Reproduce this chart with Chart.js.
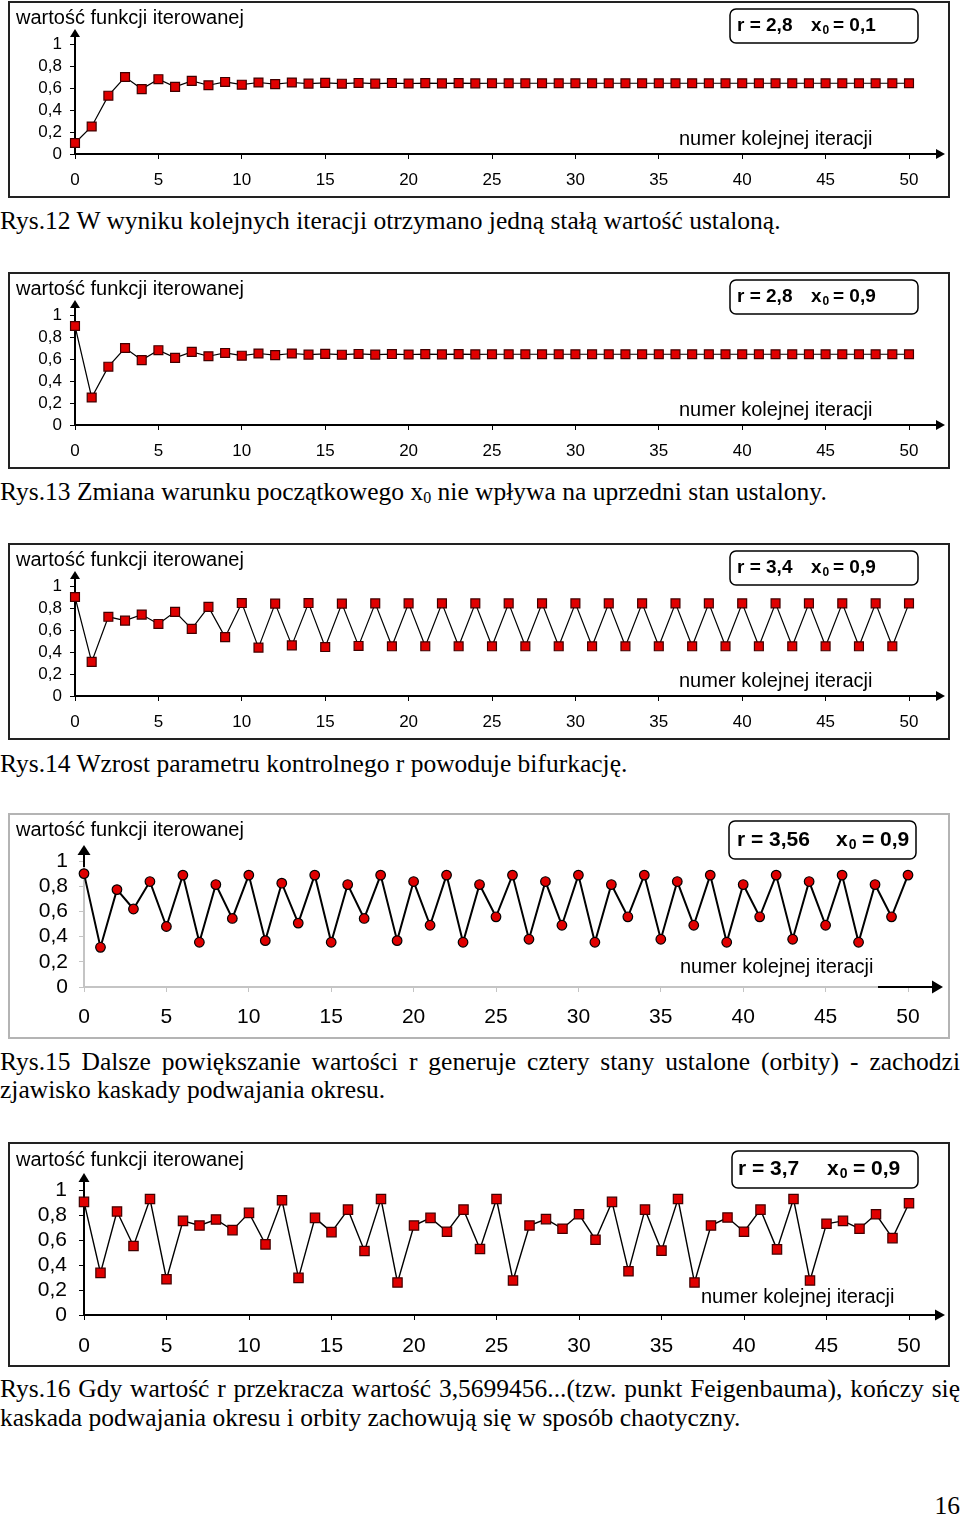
<!DOCTYPE html>
<html lang="pl">
<head>
<meta charset="utf-8">
<title>Iteracje funkcji logistycznej</title>
<script src="https://cdn.jsdelivr.net/npm/chart.js@4.4.0/dist/chart.umd.min.js"></script>
<style>
    body { margin: 0; width: 960px; height: 1517px; background: #fff; position: relative; overflow: hidden; }
    canvas.wykres { position: absolute; left: 8px; }
    .podpis { position: absolute; left: 0; width: 960px; font-family: "Liberation Serif", "Times New Roman", serif; font-size: 25.5px; line-height: 29px; color: #000; white-space: nowrap; }
    .wyjustowany { text-align: justify; text-align-last: justify; white-space: normal; }
    .ind { font-size: 16px; vertical-align: -3px; }
</style>
</head>
<body>
<canvas class="wykres" id="rys12"></canvas>
<div class="podpis" style="top:206px">Rys.12 W wyniku kolejnych iteracji otrzymano jedną stałą wartość ustaloną.</div>

<canvas class="wykres" id="rys13"></canvas>
<div class="podpis" style="top:477px">Rys.13 Zmiana warunku początkowego x<span class="ind">0</span> nie wpływa na uprzedni stan ustalony.</div>

<canvas class="wykres" id="rys14"></canvas>
<div class="podpis" style="top:749px">Rys.14 Wzrost parametru kontrolnego r powoduje bifurkację.</div>

<canvas class="wykres" id="rys15"></canvas>
<div class="podpis wyjustowany" style="top:1047px">Rys.15 Dalsze powiększanie wartości r generuje cztery stany ustalone (orbity) - zachodzi</div>
<div class="podpis" style="top:1075px">zjawisko kaskady podwajania okresu.</div>

<canvas class="wykres" id="rys16"></canvas>
<div class="podpis wyjustowany" style="top:1374px">Rys.16 Gdy wartość r przekracza wartość 3,5699456...(tzw. punkt Feigenbauma), kończy się</div>
<div class="podpis" style="top:1403px">kaskada podwajania okresu i orbity zachowują się w sposób chaotyczny.</div>

<div class="podpis" style="top:1491px; text-align:right">16</div>

<script>
// numery iteracji (oś X)
const iteracje = [0, 1, 2, 3, 4, 5, 6, 7, 8, 9, 10, 11, 12, 13, 14, 15, 16, 17, 18, 19, 20,
    21, 22, 23, 24, 25, 26, 27, 28, 29, 30, 31, 32, 33, 34, 35, 36, 37, 38, 39, 40,
    41, 42, 43, 44, 45, 46, 47, 48, 49, 50];
const etykietyX = ['0', '5', '10', '15', '20', '25', '30', '35', '40', '45', '50'];
const etykietyY = ['0', '0,2', '0,4', '0,6', '0,8', '1'];
const tytulOsiY = 'wartość funkcji iterowanej';
const tytulOsiX = 'numer kolejnej iteracji';

// odczytane wartości funkcji iterowanej
const wartosci12 = [0.10, 0.25, 0.53, 0.70, 0.59, 0.68, 0.61, 0.665, 0.625, 0.655,
    0.63, 0.65, 0.635, 0.65, 0.64, 0.647, 0.639, 0.646, 0.640, 0.645,
    0.641, 0.644, 0.642, 0.644, 0.642, 0.643, 0.643, 0.643, 0.643, 0.643,
    0.643, 0.643, 0.643, 0.643, 0.643, 0.643, 0.643, 0.643, 0.643, 0.643,
    0.643, 0.643, 0.643, 0.643, 0.643, 0.643, 0.643, 0.643, 0.643, 0.643, 0.643];
const wartosci13 = [0.90, 0.25, 0.53, 0.70, 0.59, 0.68, 0.61, 0.665, 0.625, 0.655,
    0.63, 0.65, 0.635, 0.65, 0.64, 0.647, 0.639, 0.646, 0.640, 0.645,
    0.641, 0.644, 0.642, 0.644, 0.642, 0.643, 0.643, 0.643, 0.643, 0.643,
    0.643, 0.643, 0.643, 0.643, 0.643, 0.643, 0.643, 0.643, 0.643, 0.643,
    0.643, 0.643, 0.643, 0.643, 0.643, 0.643, 0.643, 0.643, 0.643, 0.643, 0.643];
const wartosci14 = [0.90, 0.31, 0.72, 0.685, 0.74, 0.655, 0.765, 0.61, 0.81, 0.535,
    0.845, 0.44, 0.84, 0.46, 0.845, 0.445, 0.84, 0.455, 0.842, 0.452,
    0.842, 0.452, 0.842, 0.452, 0.842, 0.452, 0.842, 0.452, 0.842, 0.452,
    0.842, 0.452, 0.842, 0.452, 0.842, 0.452, 0.842, 0.452, 0.842, 0.452,
    0.842, 0.452, 0.842, 0.452, 0.842, 0.452, 0.842, 0.452, 0.842, 0.452, 0.842];
const wartosci15 = [0.90, 0.315, 0.773, 0.619, 0.837, 0.48, 0.888, 0.355, 0.813, 0.544,
    0.888, 0.368, 0.824, 0.507, 0.888, 0.355, 0.813, 0.544, 0.888, 0.368,
    0.837, 0.49, 0.888, 0.355, 0.813, 0.557, 0.888, 0.379, 0.837, 0.49,
    0.888, 0.355, 0.813, 0.557, 0.888, 0.379, 0.837, 0.49, 0.888, 0.355,
    0.813, 0.557, 0.888, 0.379, 0.837, 0.49, 0.888, 0.355, 0.813, 0.557, 0.888];
const wartosci16 = [0.905, 0.337, 0.828, 0.552, 0.928, 0.286, 0.753, 0.716, 0.764, 0.679,
    0.817, 0.565, 0.918, 0.297, 0.777, 0.663, 0.843, 0.512, 0.928, 0.26,
    0.716, 0.777, 0.666, 0.843, 0.528, 0.928, 0.276, 0.716, 0.767, 0.69,
    0.806, 0.602, 0.905, 0.35, 0.843, 0.515, 0.928, 0.26, 0.716, 0.78,
    0.666, 0.843, 0.525, 0.928, 0.276, 0.73, 0.753, 0.69, 0.806, 0.615, 0.894];

// parametry w ramce: [r, x, indeks, x0]
const parametry12 = ['r = 2,8', 'x', '0', '= 0,1'];
const parametry13 = ['r = 2,8', 'x', '0', '= 0,9'];
const parametry14 = ['r = 3,4', 'x', '0', '= 0,9'];
const parametry15 = ['r = 3,56', 'x', '0', '= 0,9'];
const parametry16 = ['r = 3,7', 'x', '0', '= 0,9'];

const CZCIONKA = '"Liberation Sans", Arial, sans-serif';
const SZEROKOSC = 942;

// układ wykresów w stylu "starym" (Rys.12-14, 16)
const ukladStary = {
    h: 197, left: 67, right: 901, top: 43, bottom: 153,
    ramka: '#222', osKolor: '#000', osGrubosc: 2, linia: 1.2,
    punkt: 'rect', promien: 6.3, punktRamka: '#400000',
    tick: 17, tickPadX: 11, tickPadY: 8, tytul: 20, tytulY: 17,
    strzalkaY: 28, strzalkaX: 937, grotW: 10, grotH: 8,
    ramkaPar: { x: 722, y: 8, w: 188, h: 34 }, parX: [729, 803, 825], parY: 25, parFont: 19,
    osXx: 671, osXy: 138
};

const ustawienia = [
    { id: 'rys12', top: 1, dane: wartosci12, par: parametry12, u: ukladStary },
    { id: 'rys13', top: 272, dane: wartosci13, par: parametry13, u: ukladStary },
    { id: 'rys14', top: 543, dane: wartosci14, par: parametry14, u: ukladStary },
    { id: 'rys15', top: 813, dane: wartosci15, par: parametry15, u: {
        h: 226, left: 76, right: 900, top: 48, bottom: 174,
        ramka: '#b4b4b4', osKolor: '#c4c4c4', osGrubosc: 2, linia: 2,
        punkt: 'circle', promien: 4.8, punktRamka: '#000',
        tick: 21, tickPadX: 13, tickPadY: 11, tytul: 20, tytulY: 17,
        strzalkaY: 32, strzalkaX: 935, grotW: 13, grotH: 10, czarnaOsX: 870,
        ramkaPar: { x: 721, y: 8, w: 187, h: 38 }, parX: [729, 828, 854], parY: 27, parFont: 21,
        osXx: 672, osXy: 154
    } },
    { id: 'rys16', top: 1142, dane: wartosci16, par: parametry16, u: {
        h: 225, left: 76, right: 901, top: 48, bottom: 173,
        ramka: '#222', osKolor: '#000', osGrubosc: 2, linia: 1.4,
        punkt: 'rect', promien: 6.6, punktRamka: '#400000',
        tick: 21, tickPadX: 14, tickPadY: 12, tytul: 20, tytulY: 18,
        strzalkaY: 31, strzalkaX: 937, grotW: 11, grotH: 9,
        ramkaPar: { x: 724, y: 9, w: 186, h: 37 }, parX: [730, 819, 845], parY: 27, parFont: 21,
        osXx: 693, osXy: 155
    } }
];

// ramka, strzałki osi, opisy
const dekoracje = (u, par) => ({
    id: 'dekoracje',
    afterDraw(chart) {
        const ctx = chart.ctx;
        const ca = chart.chartArea;
        ctx.save();

        // ramka wykresu
        ctx.strokeStyle = u.ramka;
        ctx.lineWidth = 2;
        ctx.strokeRect(1, 1, SZEROKOSC - 2, u.h - 2);

        // strzałka osi Y
        const xOs = chart.scales.x.getPixelForValue(0);
        const yOs = chart.scales.y.getPixelForValue(0);
        ctx.strokeStyle = '#000';
        ctx.fillStyle = '#000';
        ctx.lineWidth = 2;
        ctx.beginPath();
        ctx.moveTo(xOs, u.czarnaOsX ? ca.top + 6 : ca.top);
        ctx.lineTo(xOs, u.strzalkaY + u.grotH - 1);
        ctx.stroke();
        ctx.beginPath();
        ctx.moveTo(xOs, u.strzalkaY);
        ctx.lineTo(xOs - u.grotW / 2, u.strzalkaY + u.grotH);
        ctx.lineTo(xOs + u.grotW / 2, u.strzalkaY + u.grotH);
        ctx.closePath();
        ctx.fill();

        // strzałka osi X
        ctx.beginPath();
        ctx.moveTo(u.czarnaOsX || ca.right, yOs);
        ctx.lineTo(u.strzalkaX - u.grotH + 1, yOs);
        ctx.stroke();
        ctx.beginPath();
        ctx.moveTo(u.strzalkaX, yOs);
        ctx.lineTo(u.strzalkaX - u.grotH - 1, yOs - u.grotW / 2);
        ctx.lineTo(u.strzalkaX - u.grotH - 1, yOs + u.grotW / 2);
        ctx.closePath();
        ctx.fill();

        // tytuły osi
        ctx.textBaseline = 'middle';
        ctx.textAlign = 'left';
        ctx.font = `${u.tytul}px ${CZCIONKA}`;
        ctx.fillText(tytulOsiY, 8, u.tytulY);
        ctx.fillText(tytulOsiX, u.osXx, u.osXy);

        // ramka z parametrami
        const r = u.ramkaPar;
        ctx.lineWidth = 1.5;
        ctx.beginPath();
        ctx.roundRect(r.x, r.y, r.w, r.h, 6);
        ctx.stroke();
        ctx.font = `bold ${u.parFont}px ${CZCIONKA}`;
        ctx.fillText(par[0], u.parX[0], u.parY);
        ctx.fillText(par[1], u.parX[1], u.parY);
        const wx = ctx.measureText(par[1]).width;
        ctx.fillText(par[3], u.parX[2], u.parY);
        ctx.font = `bold ${Math.round(u.parFont * 0.65)}px ${CZCIONKA}`;
        ctx.fillText(par[2], u.parX[1] + wx + 1, u.parY + 5);

        ctx.restore();
    }
});

const rysuj = ({ id, top, dane, par, u }) => {
    const canvas = document.getElementById(id);
    canvas.width = SZEROKOSC;
    canvas.height = u.h;
    canvas.style.top = top + 'px';

    const os = {
        grid: { drawOnChartArea: false, drawTicks: true, tickLength: 5, color: u.osKolor, lineWidth: 1 },
        border: { display: true, color: u.osKolor, width: u.osGrubosc }
    };

    return new Chart(canvas, {
        type: 'line',
        data: {
            datasets: [{
                data: iteracje.map((x, i) => ({ x, y: dane[i] })),
                borderColor: '#000',
                borderWidth: u.linia,
                tension: 0,
                clip: false,
                pointStyle: u.punkt,
                pointRadius: u.promien,
                pointBackgroundColor: '#e00000',
                pointBorderColor: u.punktRamka,
                pointBorderWidth: 1.2
            }]
        },
        options: {
            responsive: false,
            animation: false,
            events: [],
            layout: { padding: { left: 0, top: u.top, right: SZEROKOSC - u.right, bottom: 0 } },
            plugins: { legend: { display: false }, tooltip: { enabled: false } },
            scales: {
                x: {
                    type: 'linear', min: 0, max: 50,
                    afterFit: (s) => { s.height = u.h - u.bottom; },
                    ticks: {
                        stepSize: 5, autoSkip: false, maxRotation: 0, color: '#000',
                        padding: u.tickPadX, font: { family: CZCIONKA, size: u.tick },
                        callback: (v) => etykietyX[Math.round(v / 5)]
                    },
                    ...os
                },
                y: {
                    min: 0, max: 1,
                    afterFit: (s) => { s.width = u.left; },
                    ticks: {
                        stepSize: 0.2, autoSkip: false, color: '#000',
                        padding: u.tickPadY, font: { family: CZCIONKA, size: u.tick },
                        callback: (v) => etykietyY[Math.round(v * 5)]
                    },
                    ...os
                }
            }
        },
        plugins: [dekoracje(u, par)]
    });
};

document.addEventListener('DOMContentLoaded', () => {
    ustawienia.forEach(rysuj);
});
</script>
</body>
</html>
